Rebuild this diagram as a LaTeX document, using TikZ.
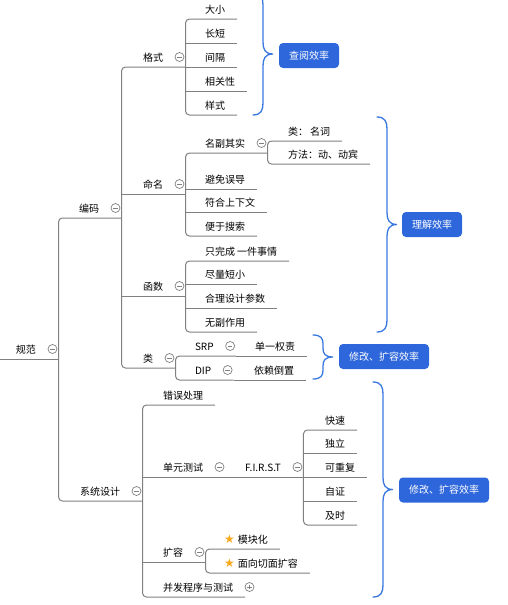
\documentclass[tikz,border=0pt]{standalone}
\usepackage{fontspec}
\setmainfont{Noto Sans CJK SC}
\newfontfamily\starfont{DejaVu Sans}
\usetikzlibrary{positioning}

\definecolor{linegray}{RGB}{128,128,128}
\definecolor{braceblue}{RGB}{58,120,224}
\definecolor{boxblue}{RGB}{46,103,219}
\definecolor{stargold}{RGB}{246,168,28}

% curly brace of a summary: left x, top y, bottom y
\newcommand{\mmbrace}[3]{%
  \pgfmathsetmacro{\bmid}{(#2+#3)/2}
  \pgfmathsetmacro{\barm}{min(12,(#3-#2)/5)}
  \draw[bracel] (#1,#2) .. controls (#1+8,#2) and (#1+10,#2+0.4*\barm) .. (#1+10,#2+\barm)
    -- (#1+10,\bmid-\barm) .. controls (#1+10,\bmid-0.4*\barm) and (#1+12,\bmid) .. (#1+20,\bmid)
    .. controls (#1+12,\bmid) and (#1+10,\bmid+0.4*\barm) .. (#1+10,\bmid+\barm)
    -- (#1+10,#3-\barm) .. controls (#1+10,#3-0.4*\barm) and (#1+8,#3) .. (#1,#3);
}
\newcommand{\goldstar}{{\starfont\fontsize{12}{12}\selectfont\textcolor{stargold}{★}}\hspace{3pt}}

\begin{document}
\begin{tikzpicture}[x=1pt,y=-1pt,font=\fontsize{10}{12}\selectfont]

    \tikzset{
      topic/.style={
        anchor=south west,
        inner xsep=12pt,
        inner ysep=0pt,
        outer sep=0pt,
        text height=14pt,
        text depth=6pt,
      },
      uline/.style={draw=linegray, line width=1pt},
      foldbase/.style={
        circle,
        draw=linegray,
        line width=0.7pt,
        minimum size=9pt,
        inner sep=0pt,
        outer sep=0pt,
      },
      fold/.style={foldbase,
        path picture={\draw[linegray,line width=0.7pt] ([xshift=2.3pt]path picture bounding box.west) -- ([xshift=-2.3pt]path picture bounding box.east);}},
      unfold/.style={foldbase,
        path picture={\draw[linegray,line width=0.7pt] ([xshift=2.3pt]path picture bounding box.west) -- ([xshift=-2.3pt]path picture bounding box.east)
          ([yshift=-2.3pt]path picture bounding box.north) -- ([yshift=2.3pt]path picture bounding box.south);}},
      effbox/.style={
        fill=boxblue,
        rounded corners=4pt,
        text=white,
        inner xsep=10pt,
        inner ysep=0pt,
        minimum height=25pt,
      },
      bracel/.style={draw=braceblue, line width=1.3pt, line cap=round},
    }
    \useasboundingbox (0,0) rectangle (508,605);

	% root
	\coordinate (guifan-in) at (0,359);
	\node[topic] (guifan) at (4,359) {规范};
	\node[fold, right=0pt of guifan] (guifan-f) {};
	\coordinate (guifan-j) at ([xshift=1.5pt]guifan-f.east);

	\node[topic] (bianma) at (67,218) {编码};
	\node[fold, right=0pt of bianma] (bianma-f) {};
	\coordinate (bianma-j) at ([xshift=1.5pt]bianma-f.east);
	\node[topic] (xitong) at (68,501) {系统设计};
	\node[fold, right=0pt of xitong] (xitong-f) {};
	\coordinate (xitong-j) at ([xshift=1.5pt]xitong-f.east);

	% 编码
	\node[topic] (geshi) at (131,67) {格式};
	\node[fold, right=0pt of geshi] (geshi-f) {};
	\coordinate (geshi-j) at ([xshift=1.5pt]geshi-f.east);
	\node[topic] (mingming) at (131,194) {命名};
	\node[fold, right=0pt of mingming] (mingming-f) {};
	\coordinate (mingming-j) at ([xshift=1.5pt]mingming-f.east);
	\node[topic] (hanshu) at (131,296) {函数};
	\node[fold, right=0pt of hanshu] (hanshu-f) {};
	\coordinate (hanshu-j) at ([xshift=1.5pt]hanshu-f.east);
	\node[topic] (leiy) at (131,368) {类};
	\node[fold, right=0pt of leiy] (leiy-f) {};
	\coordinate (leiy-j) at ([xshift=1.5pt]leiy-f.east);

	\node[topic] (daxiao) at (193,19) {大小};
	\node[topic] (changduan) at (193,43) {长短};
	\node[topic] (jiange) at (193,67) {间隔};
	\node[topic] (xiangguan) at (193,91) {相关性};
	\node[topic] (yangshi) at (193,115) {样式};

	\node[topic] (mfqs) at (193,153) {名副其实};
	\node[fold, right=0pt of mfqs] (mfqs-f) {};
	\coordinate (mfqs-j) at ([xshift=1.5pt]mfqs-f.east);
	\node[topic] (bmwd) at (193,189) {避免误导};
	\node[topic] (fhsxw) at (193,212) {符合上下文};
	\node[topic] (byss) at (193,236) {便于搜索};
	\node[topic] (leimc) at (276,141) {类： 名词};
	\node[topic] (fangfa) at (276,164) {方法：动、动宾};

	\node[topic] (zwc) at (193,261) {只完成 一件事情};
	\node[topic] (jlds) at (193,284) {尽量短小};
	\node[topic] (hlsj) at (193,308) {合理设计参数};
	\node[topic] (wfzy) at (193,332) {无副作用};

	\node[topic] (srp) at (183,356) {SRP};
	\node[fold, right=0pt of srp] (srp-f) {};
	\coordinate (srp-j) at ([xshift=1.5pt]srp-f.east);
	\node[topic] (dip) at (183,380) {DIP};
	\node[fold, right=0pt of dip] (dip-f) {};
	\coordinate (dip-j) at ([xshift=1.5pt]dip-f.east);
	\node[topic] (dyqz) at (243,356) {单一权责};
	\node[topic] (yldz) at (242,380) {依赖倒置};

	% 系统设计
	\node[topic] (cwcl) at (151,405) {错误处理};
	\node[topic] (dycs) at (151,477) {单元测试};
	\node[fold, right=0pt of dycs] (dycs-f) {};
	\coordinate (dycs-j) at ([xshift=1.5pt]dycs-f.east);
	\node[topic] (kuorong) at (151,562) {扩容};
	\node[fold, right=0pt of kuorong] (kuorong-f) {};
	\coordinate (kuorong-j) at ([xshift=1.5pt]kuorong-f.east);
	\node[topic] (bfcx) at (151,597) {并发程序与测试};
	\node[unfold, right=0pt of bfcx] (bfcx-f) {};

	\node[topic] (first) at (233,477) {F.I.R.S.T};
	\node[fold, right=0pt of first] (first-f) {};
	\coordinate (first-j) at ([xshift=1.5pt]first-f.east);
	\node[topic] (ks) at (313,430) {快速};
	\node[topic] (dl) at (313,453) {独立};
	\node[topic] (kcf) at (313,477) {可重复};
	\node[topic] (zz) at (313,501) {自证};
	\node[topic] (js) at (313,525) {及时};

	\node[topic] (mkh) at (212,549) {\goldstar 模块化};
	\node[topic] (mxqm) at (212,573) {\goldstar 面向切面扩容};

	% lines
	\draw[uline] (guifan-in) -- (guifan-j |- guifan.south);
	\draw[uline, rounded corners=4pt] (bianma-j |- bianma.south) -- (guifan-j |- bianma.south) -- (guifan-j |- xitong.south) -- (xitong-j |- xitong.south);

	\draw[uline, rounded corners=4pt] (geshi-j |- geshi.south) -- (bianma-j |- geshi.south) -- (bianma-j |- leiy.south) -- (leiy-j |- leiy.south);
	\draw[uline] (bianma-j |- mingming.south) -- (mingming-j |- mingming.south);
	\draw[uline] (bianma-j |- hanshu.south) -- (hanshu-j |- hanshu.south);

	\draw[uline, rounded corners=4pt] (daxiao.south east) -- (geshi-j |- daxiao.south) -- (geshi-j |- yangshi.south) -- (yangshi.south east);
	\draw[uline] (geshi-j |- changduan.south) -- (changduan.south east);
	\draw[uline] (geshi-j |- jiange.south) -- (jiange.south east);
	\draw[uline] (geshi-j |- xiangguan.south) -- (xiangguan.south east);

	\draw[uline, rounded corners=4pt] (mfqs-j |- mfqs.south) -- (mingming-j |- mfqs.south) -- (mingming-j |- byss.south) -- (byss.south east);
	\draw[uline] (mingming-j |- bmwd.south) -- (bmwd.south east);
	\draw[uline] (mingming-j |- fhsxw.south) -- (fhsxw.south east);
	\draw[uline, rounded corners=4pt] (leimc.south east) -- (mfqs-j |- leimc.south) -- (mfqs-j |- fangfa.south) -- (fangfa.south east);

	\draw[uline, rounded corners=4pt] (zwc.south east) -- (hanshu-j |- zwc.south) -- (hanshu-j |- wfzy.south) -- (wfzy.south east);
	\draw[uline] (hanshu-j |- jlds.south) -- (jlds.south east);
	\draw[uline] (hanshu-j |- hlsj.south) -- (hlsj.south east);

	\draw[uline, rounded corners=4pt] (srp-j |- srp.south) -- (leiy-j |- srp.south) -- (leiy-j |- dip.south) -- (dip-j |- dip.south);
	\draw[uline] (srp-j |- dyqz.south) -- (dyqz.south east);
	\draw[uline] (dip-j |- yldz.south) -- (yldz.south east);

	\draw[uline, rounded corners=4pt] (cwcl.south east) -- (xitong-j |- cwcl.south) -- (xitong-j |- bfcx.south) -- (bfcx.south east);
	\draw[uline] (xitong-j |- dycs.south) -- (dycs-j |- dycs.south);
	\draw[uline] (xitong-j |- kuorong.south) -- (kuorong-j |- kuorong.south);
	\draw[uline] (dycs-j |- first.south) -- (first-j |- first.south);

	\draw[uline, rounded corners=4pt] (ks.south east) -- (first-j |- ks.south) -- (first-j |- js.south) -- (js.south east);
	\draw[uline] (first-j |- dl.south) -- (dl.south east);
	\draw[uline] (first-j |- kcf.south) -- (kcf.south east);
	\draw[uline] (first-j |- zz.south) -- (zz.south east);

	\draw[uline, rounded corners=4pt] (mkh.south east) -- (kuorong-j |- mkh.south) -- (kuorong-j |- mxqm.south) -- (mxqm.south east);

	% summaries
	\mmbrace{253}{-7}{115}
	\node[effbox] (chayue) at (309,55.5) {查阅效率};
	\mmbrace{377}{117}{332}
	\node[effbox] (lijie) at (432,224.5) {理解效率};
	\mmbrace{313}{335}{379}
	\node[effbox] (xiugai-a) at (384,356.5) {修改、扩容效率};
	\mmbrace{373}{382}{597}
	\node[effbox] (xiugai-b) at (444,490) {修改、扩容效率};

\end{tikzpicture}
\end{document}
